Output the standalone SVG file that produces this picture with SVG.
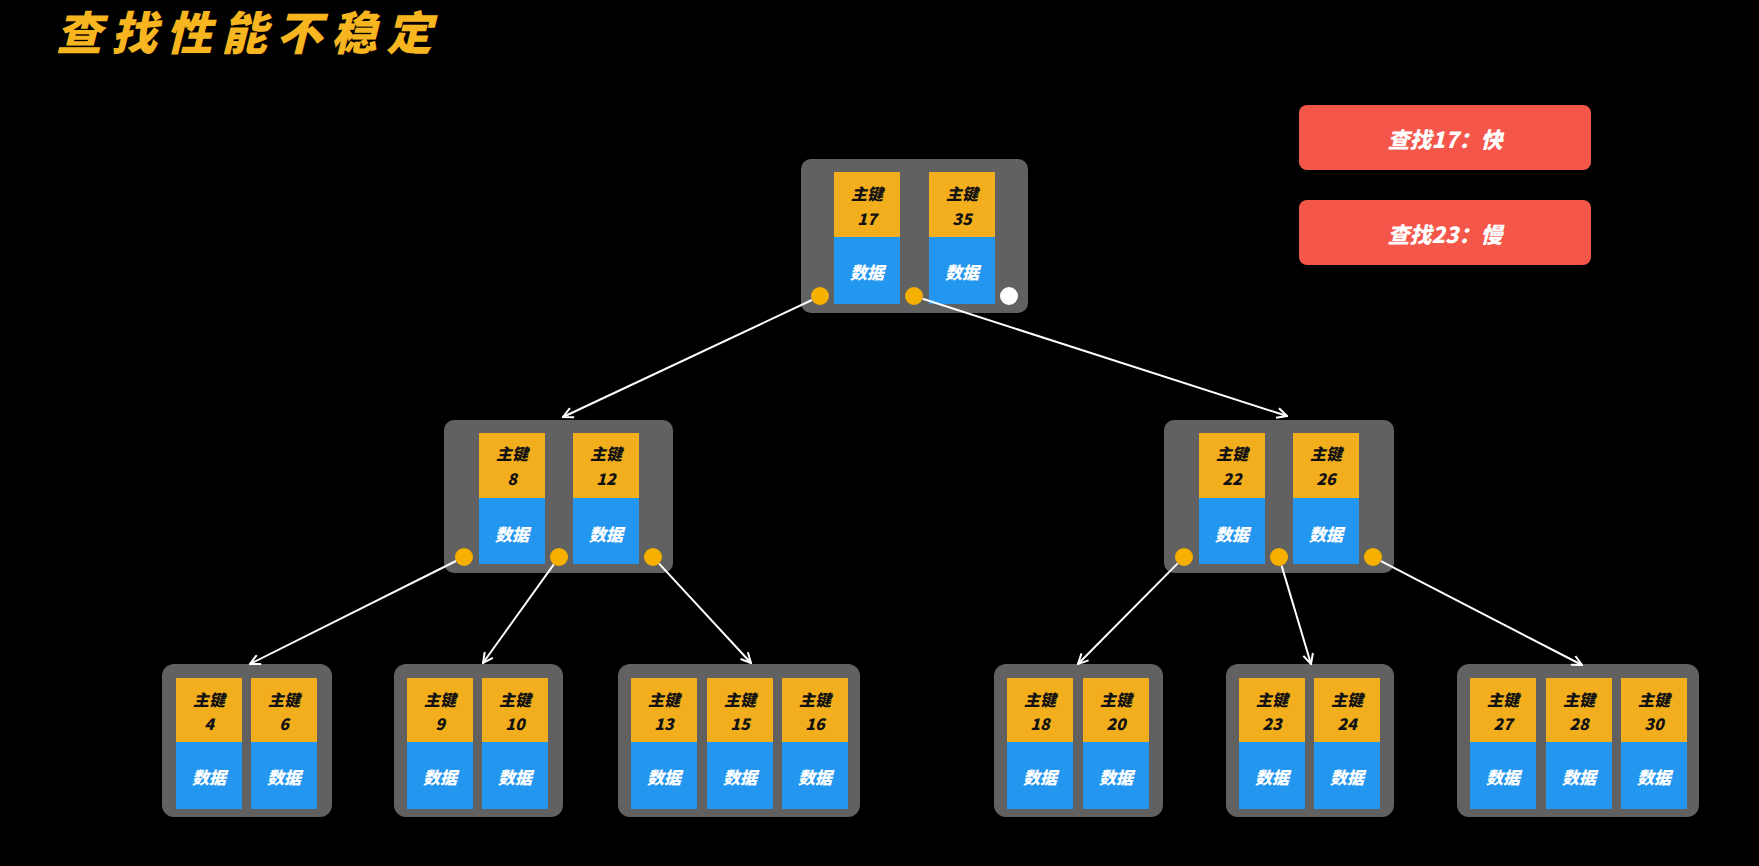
<svg xmlns="http://www.w3.org/2000/svg" width="1759" height="866" viewBox="0 0 1759 866">
<style>
.bg{fill:#000}
.node{fill:#616161}
.key{fill:#f2ae1d}
.data{fill:#2396ef}
.dot{fill:#f5b000}
.wdot{fill:#ffffff}
text{font-family:"Noto Sans CJK SC","Noto Sans",sans-serif;font-weight:900;font-style:italic;text-anchor:middle;dominant-baseline:central}
.kt{fill:#111;font-size:16px}
.dt{fill:#fff;font-size:17px}
.title{fill:#f7b51f;font-size:46px;text-anchor:start;dominant-baseline:alphabetic;letter-spacing:9px}
.btn{fill:#f4574a}
.bt{fill:#fff;font-size:22px}
.edge{stroke:#fff;stroke-width:2;fill:none;marker-end:url(#arr)}
</style>
<defs>
<marker id="arr" viewBox="0 0 12 12" refX="11" refY="6" markerWidth="12" markerHeight="12" markerUnits="userSpaceOnUse" orient="auto">
<path d="M1,1 L11,6 L1,11" stroke="#fff" stroke-width="2" fill="none"/>
</marker>
</defs>
<rect class="bg" x="0" y="0" width="1759" height="866"/>
<text class="title" x="56" y="50">查找性能不稳定</text>

<g id="note1"><rect class="btn" x="1299" y="105" width="292" height="65" rx="8"/><text class="bt" x="1445" y="137.5">查找17：快</text></g>
<g id="note2"><rect class="btn" x="1299" y="200" width="292" height="65" rx="8"/><text class="bt" x="1445" y="232.5">查找23：慢</text></g>

<g id="root">
<rect class="node" x="801" y="159" width="227" height="154" rx="10"/>
<rect class="key" x="834" y="172" width="66" height="65"/><rect class="data" x="834" y="237" width="66" height="67"/>
<text class="kt" x="867" y="193">主键</text><text class="kt" x="867" y="218">17</text><text class="dt" x="867" y="271">数据</text>
<rect class="key" x="929" y="172" width="66" height="65"/><rect class="data" x="929" y="237" width="66" height="67"/>
<text class="kt" x="962" y="193">主键</text><text class="kt" x="962" y="218">35</text><text class="dt" x="962" y="271">数据</text>
<circle class="dot" cx="820" cy="296" r="9"/><circle class="dot" cx="914" cy="296" r="9"/><circle class="wdot" cx="1009" cy="296" r="9"/>
</g>

<g id="midL">
<rect class="node" x="444" y="420" width="229" height="153" rx="10"/>
<rect class="key" x="479" y="433" width="66" height="65"/><rect class="data" x="479" y="498" width="66" height="66"/>
<text class="kt" x="512" y="453">主键</text><text class="kt" x="512" y="478">8</text><text class="dt" x="512" y="533">数据</text>
<rect class="key" x="573" y="433" width="66" height="65"/><rect class="data" x="573" y="498" width="66" height="66"/>
<text class="kt" x="606" y="453">主键</text><text class="kt" x="606" y="478">12</text><text class="dt" x="606" y="533">数据</text>
<circle class="dot" cx="464" cy="557" r="9"/><circle class="dot" cx="559" cy="557" r="9"/><circle class="dot" cx="653" cy="557" r="9"/>
</g>

<g id="midR">
<rect class="node" x="1164" y="420" width="230" height="153" rx="10"/>
<rect class="key" x="1199" y="433" width="66" height="65"/><rect class="data" x="1199" y="498" width="66" height="66"/>
<text class="kt" x="1232" y="453">主键</text><text class="kt" x="1232" y="478">22</text><text class="dt" x="1232" y="533">数据</text>
<rect class="key" x="1293" y="433" width="66" height="65"/><rect class="data" x="1293" y="498" width="66" height="66"/>
<text class="kt" x="1326" y="453">主键</text><text class="kt" x="1326" y="478">26</text><text class="dt" x="1326" y="533">数据</text>
<circle class="dot" cx="1184" cy="557" r="9"/><circle class="dot" cx="1279" cy="557" r="9"/><circle class="dot" cx="1373" cy="557" r="9"/>
</g>

<g id="leaf1">
<rect class="node" x="162" y="664" width="170" height="153" rx="12"/>
<rect class="key" x="176" y="678" width="66" height="64"/><rect class="data" x="176" y="742" width="66" height="67"/>
<text class="kt" x="209" y="699">主键</text><text class="kt" x="209" y="723">4</text><text class="dt" x="209" y="776">数据</text>
<rect class="key" x="251" y="678" width="66" height="64"/><rect class="data" x="251" y="742" width="66" height="67"/>
<text class="kt" x="284" y="699">主键</text><text class="kt" x="284" y="723">6</text><text class="dt" x="284" y="776">数据</text>
</g>

<g id="leaf2">
<rect class="node" x="394" y="664" width="169" height="153" rx="12"/>
<rect class="key" x="407" y="678" width="66" height="64"/><rect class="data" x="407" y="742" width="66" height="67"/>
<text class="kt" x="440" y="699">主键</text><text class="kt" x="440" y="723">9</text><text class="dt" x="440" y="776">数据</text>
<rect class="key" x="482" y="678" width="66" height="64"/><rect class="data" x="482" y="742" width="66" height="67"/>
<text class="kt" x="515" y="699">主键</text><text class="kt" x="515" y="723">10</text><text class="dt" x="515" y="776">数据</text>
</g>

<g id="leaf3">
<rect class="node" x="618" y="664" width="242" height="153" rx="12"/>
<rect class="key" x="631" y="678" width="66" height="64"/><rect class="data" x="631" y="742" width="66" height="67"/>
<text class="kt" x="664" y="699">主键</text><text class="kt" x="664" y="723">13</text><text class="dt" x="664" y="776">数据</text>
<rect class="key" x="707" y="678" width="66" height="64"/><rect class="data" x="707" y="742" width="66" height="67"/>
<text class="kt" x="740" y="699">主键</text><text class="kt" x="740" y="723">15</text><text class="dt" x="740" y="776">数据</text>
<rect class="key" x="782" y="678" width="66" height="64"/><rect class="data" x="782" y="742" width="66" height="67"/>
<text class="kt" x="815" y="699">主键</text><text class="kt" x="815" y="723">16</text><text class="dt" x="815" y="776">数据</text>
</g>

<g id="leaf4">
<rect class="node" x="994" y="664" width="169" height="153" rx="12"/>
<rect class="key" x="1007" y="678" width="66" height="64"/><rect class="data" x="1007" y="742" width="66" height="67"/>
<text class="kt" x="1040" y="699">主键</text><text class="kt" x="1040" y="723">18</text><text class="dt" x="1040" y="776">数据</text>
<rect class="key" x="1083" y="678" width="66" height="64"/><rect class="data" x="1083" y="742" width="66" height="67"/>
<text class="kt" x="1116" y="699">主键</text><text class="kt" x="1116" y="723">20</text><text class="dt" x="1116" y="776">数据</text>
</g>

<g id="leaf5">
<rect class="node" x="1226" y="664" width="168" height="153" rx="12"/>
<rect class="key" x="1239" y="678" width="66" height="64"/><rect class="data" x="1239" y="742" width="66" height="67"/>
<text class="kt" x="1272" y="699">主键</text><text class="kt" x="1272" y="723">23</text><text class="dt" x="1272" y="776">数据</text>
<rect class="key" x="1314" y="678" width="66" height="64"/><rect class="data" x="1314" y="742" width="66" height="67"/>
<text class="kt" x="1347" y="699">主键</text><text class="kt" x="1347" y="723">24</text><text class="dt" x="1347" y="776">数据</text>
</g>

<g id="leaf6">
<rect class="node" x="1457" y="664" width="242" height="153" rx="12"/>
<rect class="key" x="1470" y="678" width="66" height="64"/><rect class="data" x="1470" y="742" width="66" height="67"/>
<text class="kt" x="1503" y="699">主键</text><text class="kt" x="1503" y="723">27</text><text class="dt" x="1503" y="776">数据</text>
<rect class="key" x="1546" y="678" width="66" height="64"/><rect class="data" x="1546" y="742" width="66" height="67"/>
<text class="kt" x="1579" y="699">主键</text><text class="kt" x="1579" y="723">28</text><text class="dt" x="1579" y="776">数据</text>
<rect class="key" x="1621" y="678" width="66" height="64"/><rect class="data" x="1621" y="742" width="66" height="67"/>
<text class="kt" x="1654" y="699">主键</text><text class="kt" x="1654" y="723">30</text><text class="dt" x="1654" y="776">数据</text>
</g>

<g id="connectors">
<line class="edge" x1="812" y1="300" x2="563" y2="417"/>
<line class="edge" x1="922.6" y1="298.8" x2="1287" y2="416"/>
<line class="edge" x1="456" y1="561" x2="250" y2="664"/>
<line class="edge" x1="553.8" y1="564.3" x2="483" y2="663"/>
<line class="edge" x1="659.1" y1="563.6" x2="751" y2="663"/>
<line class="edge" x1="1177.7" y1="563.4" x2="1078" y2="664"/>
<line class="edge" x1="1281.6" y1="565.6" x2="1311" y2="664"/>
<line class="edge" x1="1381" y1="561.1" x2="1582" y2="665"/>
</g>
</svg>
